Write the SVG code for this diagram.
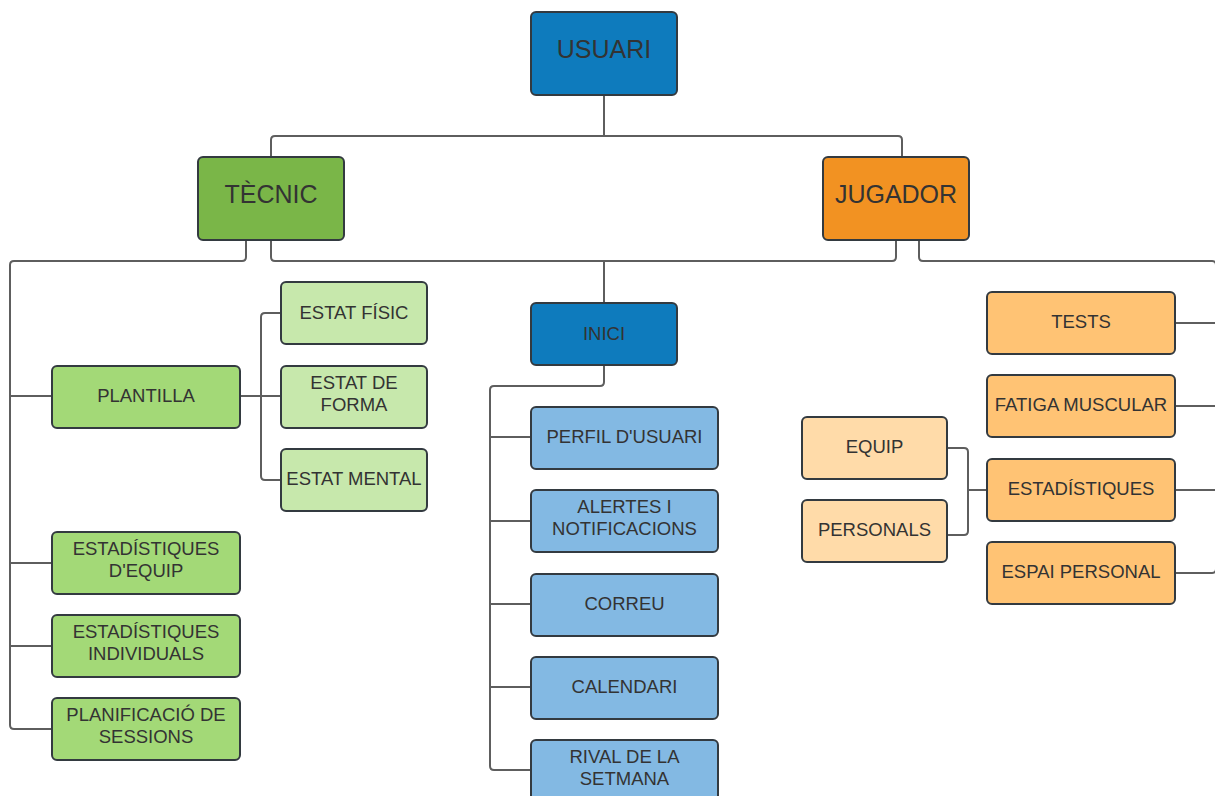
<svg xmlns="http://www.w3.org/2000/svg" width="1215" height="796" viewBox="0 0 1215 796">
<style>
.n{stroke:#333a40;stroke-width:2}
.c{fill:none;stroke:#5e5e5e;stroke-width:2}
text{font-family:"Liberation Sans",Arial,sans-serif;fill:#333333;text-anchor:middle}
.big{font-size:25px}
.sm{font-size:18.5px}
.blue{fill:#0e7bbd}
.green{fill:#7ab648}
.orange{fill:#f29222}
.g2{fill:#a3d977}
.g3{fill:#c7e8ac}
.b2{fill:#83b9e3}
.o2{fill:#ffc374}
.o3{fill:#ffdba9}
</style>
<rect width="1215" height="796" fill="#ffffff"/>
<g id="connectors">
<path class="c" d="M604,95 V136 M271,157 V140 Q271,136 275,136 H898 Q902,136 902,140 V157"/>
<path class="c" d="M246,240 V257 Q246,261 242,261 H14 Q10,261 10,265 V725 Q10,729 14,729 H52 M10,396 H52 M10,563 H52 M10,646 H52"/>
<path class="c" d="M271,240 V257 Q271,261 275,261 H892 Q896,261 896,257 V240 M604,261 V303"/>
<path class="c" d="M919,240 V257 Q919,261 923,261 H1212 Q1216,261 1216,265 V569 Q1216,573 1212,573 H1175 M1175,323 H1216 M1175,406 H1216 M1175,490 H1216"/>
<path class="c" d="M240,396 H281 M281,313 H265 Q261,313 261,317 V476 Q261,480 265,480 H281"/>
<path class="c" d="M604,365 V382 Q604,386 600,386 H494 Q490,386 490,390 V766 Q490,770 494,770 H531 M490,437 H531 M490,521 H531 M490,604 H531 M490,687 H531"/>
<path class="c" d="M987,490 H968 M947,448 H964 Q968,448 968,452 V531 Q968,535 964,535 H947"/>
</g>
<g id="usuari"><rect class="n blue" x="531" y="12" width="146" height="83" rx="5"/><text class="big" x="604" y="58">USUARI</text></g>
<g id="tecnic"><rect class="n green" x="198" y="157" width="146" height="83" rx="5"/><text class="big" x="271" y="203">TÈCNIC</text></g>
<g id="jugador"><rect class="n orange" x="823" y="157" width="146" height="83" rx="5"/><text class="big" x="896" y="203">JUGADOR</text></g>
<g id="plantilla"><rect class="n g2" x="52" y="366" width="188" height="62" rx="5"/><text class="sm" x="146" y="402">PLANTILLA</text></g>
<g id="estat-fisic"><rect class="n g3" x="281" y="282" width="146" height="62" rx="5"/><text class="sm" x="354" y="319">ESTAT FÍSIC</text></g>
<g id="estat-forma"><rect class="n g3" x="281" y="366" width="146" height="62" rx="5"/><text class="sm" x="354" y="389">ESTAT DE</text><text class="sm" x="354" y="411">FORMA</text></g>
<g id="estat-mental"><rect class="n g3" x="281" y="449" width="146" height="62" rx="5"/><text class="sm" x="354" y="485">ESTAT MENTAL</text></g>
<g id="est-equip"><rect class="n g2" x="52" y="532" width="188" height="62" rx="5"/><text class="sm" x="146" y="555">ESTADÍSTIQUES</text><text class="sm" x="146" y="577">D'EQUIP</text></g>
<g id="est-indiv"><rect class="n g2" x="52" y="615" width="188" height="62" rx="5"/><text class="sm" x="146" y="638">ESTADÍSTIQUES</text><text class="sm" x="146" y="660">INDIVIDUALS</text></g>
<g id="planificacio"><rect class="n g2" x="52" y="698" width="188" height="62" rx="5"/><text class="sm" x="146" y="721">PLANIFICACIÓ DE</text><text class="sm" x="146" y="743">SESSIONS</text></g>
<g id="inici"><rect class="n blue" x="531" y="303" width="146" height="62" rx="5"/><text class="sm" x="604" y="340">INICI</text></g>
<g id="perfil"><rect class="n b2" x="531" y="407" width="187" height="62" rx="5"/><text class="sm" x="624.5" y="443">PERFIL D'USUARI</text></g>
<g id="alertes"><rect class="n b2" x="531" y="490" width="187" height="62" rx="5"/><text class="sm" x="624.5" y="513">ALERTES I</text><text class="sm" x="624.5" y="535">NOTIFICACIONS</text></g>
<g id="correu"><rect class="n b2" x="531" y="574" width="187" height="62" rx="5"/><text class="sm" x="624.5" y="610">CORREU</text></g>
<g id="calendari"><rect class="n b2" x="531" y="657" width="187" height="62" rx="5"/><text class="sm" x="624.5" y="693">CALENDARI</text></g>
<g id="rival"><rect class="n b2" x="531" y="740" width="187" height="62" rx="5"/><text class="sm" x="624.5" y="763">RIVAL DE LA</text><text class="sm" x="624.5" y="785">SETMANA</text></g>
<g id="tests"><rect class="n o2" x="987" y="292" width="188" height="62" rx="5"/><text class="sm" x="1081" y="328">TESTS</text></g>
<g id="fatiga"><rect class="n o2" x="987" y="375" width="188" height="62" rx="5"/><text class="sm" x="1081" y="411">FATIGA MUSCULAR</text></g>
<g id="estadistiques"><rect class="n o2" x="987" y="459" width="188" height="62" rx="5"/><text class="sm" x="1081" y="495">ESTADÍSTIQUES</text></g>
<g id="espai"><rect class="n o2" x="987" y="542" width="188" height="62" rx="5"/><text class="sm" x="1081" y="578">ESPAI PERSONAL</text></g>
<g id="equip"><rect class="n o3" x="802" y="417" width="145" height="62" rx="5"/><text class="sm" x="874.5" y="453">EQUIP</text></g>
<g id="personals"><rect class="n o3" x="802" y="500" width="145" height="62" rx="5"/><text class="sm" x="874.5" y="536">PERSONALS</text></g>
</svg>
